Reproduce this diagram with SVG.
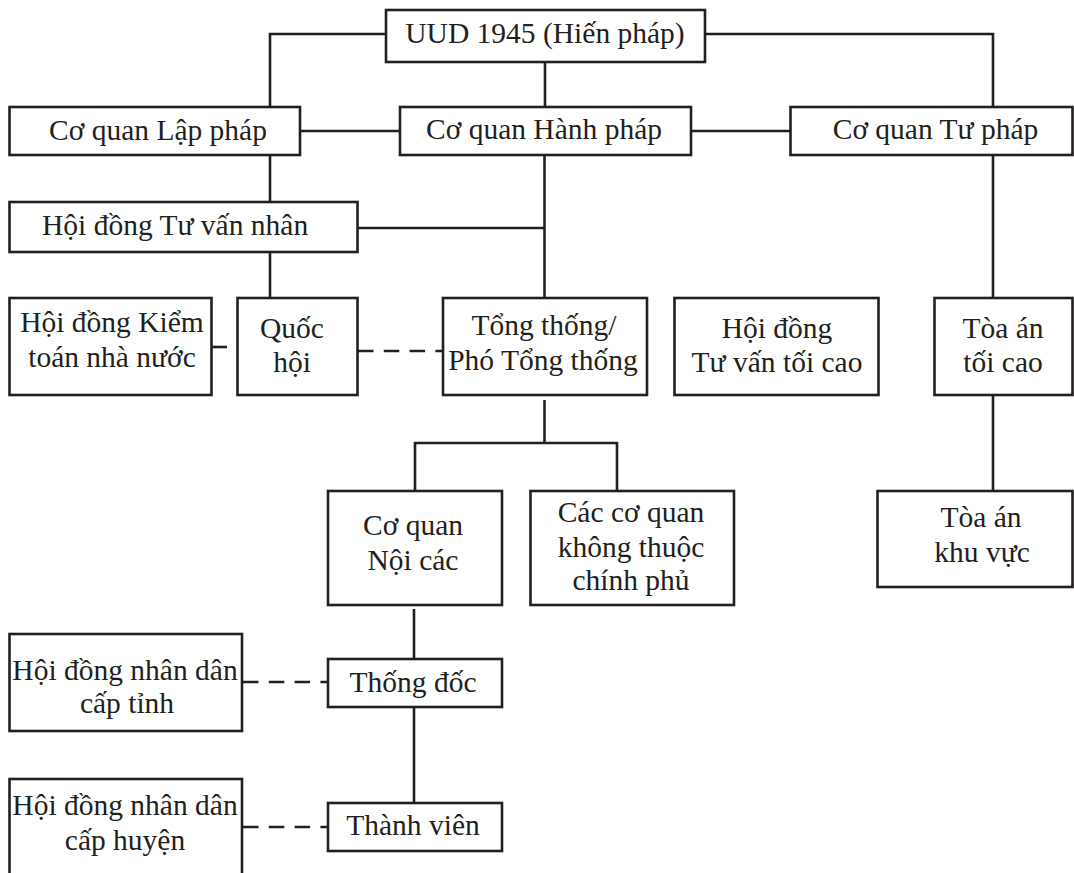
<svg xmlns="http://www.w3.org/2000/svg" width="1074" height="873" viewBox="0 0 1074 873">
  <style>
    .box { fill: #ffffff; stroke: #231f20; stroke-width: 2.6; }
    .lbl { font-family: "Liberation Serif", "Times New Roman", serif; font-size: 29.5px; fill: #231f20; text-anchor: middle; }
    .wire { fill: none; stroke: #231f20; stroke-width: 2.6; }
    .dash { fill: none; stroke: #231f20; stroke-width: 2.6; stroke-dasharray: 15.5 10.3; }
  </style>
  <rect width="1074" height="873" fill="#ffffff"/>

  <!-- connectors -->
  <g id="connectors">
    <path class="wire" d="M386 34 H270 V107"/>
    <path class="wire" d="M705 34 H993 V107"/>
    <path class="wire" d="M545 62 V107"/>
    <path class="wire" d="M300 131 H400"/>
    <path class="wire" d="M691 131 H790"/>
    <path class="wire" d="M270 155 V202"/>
    <path class="wire" d="M544.5 155 V298"/>
    <path class="wire" d="M357 228 H544.5"/>
    <path class="wire" d="M270 252 V298"/>
    <path class="wire" d="M993 155 V298"/>
    <path class="wire" d="M544.5 400 V443"/>
    <path class="wire" d="M415 491 V443 H617 V491"/>
    <path class="wire" d="M993 395 V491"/>
    <path class="wire" d="M414 609 V659"/>
    <path class="wire" d="M414 707 V803"/>
    <path class="wire" d="M211 347 H227"/>
    <path class="dash" d="M358 351 H443"/>
    <path class="dash" d="M243 682 H328"/>
    <path class="dash" d="M243 827 H328"/>
  </g>

  <g id="n-uud">
    <rect class="box" x="386" y="10" width="319" height="52"/>
    <text class="lbl" x="545" y="43">UUD 1945 (Hiến pháp)</text>
  </g>
  <g id="n-lap-phap">
    <rect class="box" x="9.5" y="107" width="290.5" height="48"/>
    <text class="lbl" x="158" y="140">Cơ quan Lập pháp</text>
  </g>
  <g id="n-hanh-phap">
    <rect class="box" x="400" y="107" width="291" height="48"/>
    <text class="lbl" x="544" y="139">Cơ quan Hành pháp</text>
  </g>
  <g id="n-tu-phap">
    <rect class="box" x="790.5" y="107" width="282" height="48"/>
    <text class="lbl" x="935.5" y="139">Cơ quan Tư pháp</text>
  </g>
  <g id="n-hd-tu-van-nhan">
    <rect class="box" x="9.5" y="202" width="348" height="50"/>
    <text class="lbl" x="42" y="235" style="text-anchor:start">Hội đồng Tư vấn nhân</text>
  </g>
  <g id="n-kiem-toan">
    <rect class="box" x="9.5" y="298" width="202" height="97"/>
    <text class="lbl" x="112" y="332">Hội đồng Kiểm</text>
    <text class="lbl" x="112" y="367">toán nhà nước</text>
  </g>
  <g id="n-quoc-hoi">
    <rect class="box" x="237.5" y="298" width="120" height="97"/>
    <text class="lbl" x="292" y="338">Quốc</text>
    <text class="lbl" x="292" y="372">hội</text>
  </g>
  <g id="n-tong-thong">
    <rect class="box" x="443" y="298" width="204" height="97"/>
    <text class="lbl" x="544" y="335">Tổng thống/</text>
    <text class="lbl" x="543" y="370">Phó Tổng thống</text>
  </g>
  <g id="n-hd-tu-van-toi-cao">
    <rect class="box" x="674.5" y="298" width="204" height="97"/>
    <text class="lbl" x="777" y="338">Hội đồng</text>
    <text class="lbl" x="777" y="372">Tư vấn tối cao</text>
  </g>
  <g id="n-toa-an-toi-cao">
    <rect class="box" x="934.5" y="298" width="138" height="97"/>
    <text class="lbl" x="1003" y="338">Tòa án</text>
    <text class="lbl" x="1003" y="372">tối cao</text>
  </g>
  <g id="n-noi-cac">
    <rect class="box" x="328" y="491" width="174" height="114"/>
    <text class="lbl" x="413" y="535">Cơ quan</text>
    <text class="lbl" x="413" y="570">Nội các</text>
  </g>
  <g id="n-co-quan-khac">
    <rect class="box" x="530.5" y="491" width="203.5" height="114"/>
    <text class="lbl" x="631" y="522">Các cơ quan</text>
    <text class="lbl" x="631" y="557">không thuộc</text>
    <text class="lbl" x="631" y="590">chính phủ</text>
  </g>
  <g id="n-toa-an-khu-vuc">
    <rect class="box" x="877.5" y="491" width="195" height="96"/>
    <text class="lbl" x="981" y="527">Tòa án</text>
    <text class="lbl" x="982" y="562">khu vực</text>
  </g>
  <g id="n-hdnd-tinh">
    <rect class="box" x="9.5" y="634" width="232.5" height="97"/>
    <text class="lbl" x="125" y="680">Hội đồng nhân dân</text>
    <text class="lbl" x="127" y="713">cấp tỉnh</text>
  </g>
  <g id="n-thong-doc">
    <rect class="box" x="328" y="659" width="174" height="48"/>
    <text class="lbl" x="413" y="692">Thống đốc</text>
  </g>
  <g id="n-hdnd-huyen">
    <rect class="box" x="9.5" y="779" width="232.5" height="120"/>
    <text class="lbl" x="125" y="815">Hội đồng nhân dân</text>
    <text class="lbl" x="125" y="850">cấp huyện</text>
  </g>
  <g id="n-thanh-vien">
    <rect class="box" x="328" y="803" width="174" height="48"/>
    <text class="lbl" x="413" y="835">Thành viên</text>
  </g>
</svg>
